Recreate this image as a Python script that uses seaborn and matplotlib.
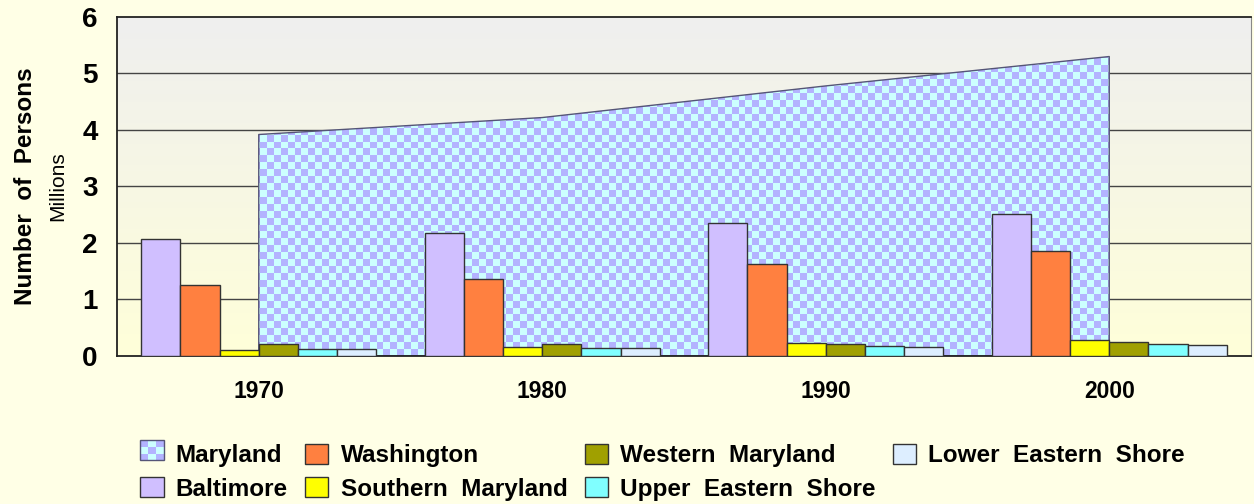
import numpy as np
import pandas as pd
import matplotlib
matplotlib.use("Agg")
import matplotlib.pyplot as plt
import seaborn as sns
from matplotlib.patches import Patch, Rectangle
from matplotlib.legend_handler import HandlerBase
from matplotlib.colors import ListedColormap, LinearSegmentedColormap

# data (millions of persons)
years = ['1970', '1980', '1990', '2000']
maryland = [3.92, 4.22, 4.78, 5.30]
regions = ['Baltimore', 'Washington', 'Southern  Maryland', 'Western  Maryland',
           'Upper  Eastern  Shore', 'Lower  Eastern  Shore']
baltimore = [2.07, 2.17, 2.35, 2.51]
washington = [1.26, 1.36, 1.63, 1.86]
southern = [0.11, 0.16, 0.23, 0.28]
western = [0.21, 0.22, 0.22, 0.24]
upper_es = [0.13, 0.15, 0.17, 0.21]
lower_es = [0.13, 0.14, 0.16, 0.19]

colors = {'Baltimore': '#D0BFFF', 'Washington': '#FF8040', 'Southern  Maryland': '#FFFF00',
          'Western  Maryland': '#A0A000', 'Upper  Eastern  Shore': '#80FFFF',
          'Lower  Eastern  Shore': '#DDEEFF'}
check_colors = ['#CCFFFF', '#B3B3FF']

rows = []
for name, vals in zip(regions, [baltimore, washington, southern, western, upper_es, lower_es]):
    for y, v in zip(years, vals):
        rows.append({'year': y, 'region': name, 'value': v})
df = pd.DataFrame(rows)

sns.set_style('white')
plt.rcParams['font.family'] = ['Liberation Sans', 'DejaVu Sans']
plt.rcParams['text.color'] = 'black'
plt.rcParams['xtick.color'] = 'black'
plt.rcParams['ytick.color'] = 'black'

fig = plt.figure(figsize=(12.54, 5.04), dpi=100, facecolor='#FFFFE6')
ax = fig.add_axes([0.0933, 0.2937, 0.9043, 0.6726])

# background gradient (gray on top -> light yellow at the bottom)
grad = np.linspace(0, 1, 256).reshape(-1, 1)
cmap_bg = LinearSegmentedColormap.from_list('bg', ['#EFEFEF', '#FFFFD9'])
ax.imshow(grad, cmap=cmap_bg, aspect='auto', extent=[0, 1, 0, 1],
          transform=ax.transAxes, zorder=0)

sns.barplot(data=df, x='year', y='value', hue='region', hue_order=regions,
            palette=colors, saturation=1, width=0.83, edgecolor='#333333',
            linewidth=1.0, legend=False, ax=ax, zorder=3)

# Maryland total as a checkered area behind the bars
xpos = np.arange(len(years))
area = ax.fill_between(xpos, 0, maryland, facecolor='none', edgecolor='#555577',
                       linewidth=1.0, zorder=2)
nrow, ncol = int(339 / 6.8), int(1134 / 6.8)
board = (np.add.outer(np.arange(nrow), np.arange(ncol)) % 2).astype(float)
im = ax.imshow(board, cmap=ListedColormap(check_colors), aspect='auto',
               extent=[0, 1, 0, 1], transform=ax.transAxes, zorder=1.5,
               interpolation='nearest')
im.set_clip_path(area.get_paths()[0], transform=ax.transData)

ax.set_xlim(-0.5, 3.5)
ax.set_ylim(0, 6)
ax.set_yticks(range(7))
for yv in range(1, 6):
    ax.axhline(yv, color='#444444', linewidth=1.0, zorder=0.8)

ax.tick_params(axis='y', labelsize=20, length=0, pad=14)
ax.tick_params(axis='x', labelsize=16.5, length=0, pad=17)
for lab in ax.get_yticklabels() + ax.get_xticklabels():
    lab.set_fontweight('bold')
ax.set_xlabel('')
ax.set_ylabel('')
for side in ['left', 'bottom', 'top']:
    ax.spines[side].set_color('#222222')
    ax.spines[side].set_linewidth(1.3)
ax.spines['right'].set_color('#888888')

fig.text(0.020, 0.631, 'Number  of  Persons', rotation=90, fontsize=17.5,
         fontweight='bold', ha='center', va='center')
fig.text(0.046, 0.631, 'Millions', rotation=90, fontsize=15,
         ha='center', va='center')


class CheckerHandler(HandlerBase):
    def create_artists(self, legend, orig, x0, y0, width, height, fontsize, trans):
        arts = []
        n = 3
        for i in range(n):
            for j in range(n):
                r = Rectangle((x0 + i * width / n, y0 + j * height / n), width / n, height / n,
                              facecolor=check_colors[(i + j + 1) % 2], edgecolor='none',
                              transform=trans)
                arts.append(r)
        arts.append(Rectangle((x0, y0), width, height, facecolor='none',
                              edgecolor='#555577', linewidth=1.0, transform=trans))
        return arts


md_handle = Patch(facecolor=check_colors[0], edgecolor='#555577')
handles = [md_handle] + [Patch(facecolor=colors[r], edgecolor='#333333') for r in regions]
labels = ['Maryland'] + regions
fig.legend(handles, labels, ncol=4,
           loc='upper left', bbox_to_anchor=(0.112, 0.12), frameon=False,
           prop={'weight': 'bold', 'size': 17.5}, handlelength=0.95, handleheight=0.9,
           handletextpad=0.5, columnspacing=0.72, labelspacing=0.42, borderaxespad=0,
           borderpad=0, handler_map={md_handle: CheckerHandler()})

fig.savefig('out.png', dpi=100, facecolor=fig.get_facecolor())
